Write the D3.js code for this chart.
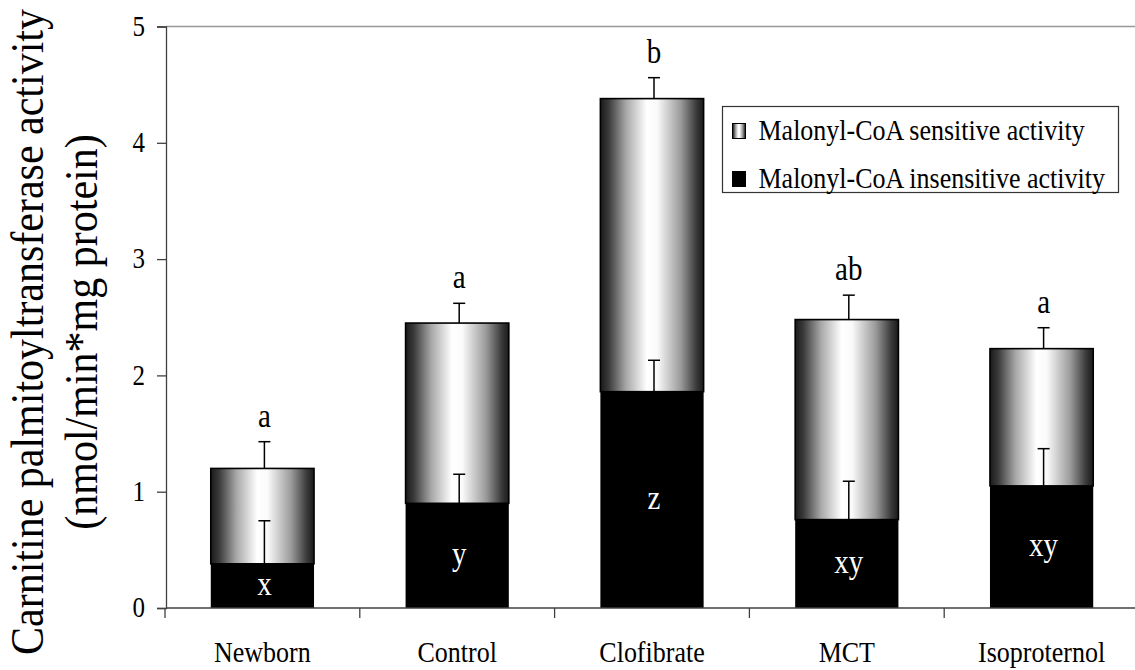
<!DOCTYPE html>
<html>
<head>
<meta charset="utf-8">
<script src="https://cdn.jsdelivr.net/npm/d3@7"></script>
<style>
  body { margin: 0; background: #fff; }
  text { font-family: "Liberation Serif", "Times New Roman", serif; fill: #000; }
</style>
</head>
<body>
<div id="chart"></div>
<script>
// values
var groups = ["Newborn", "Control", "Clofibrate", "MCT", "Isoproternol"];
var insensitive = [0.38, 0.90, 1.86, 0.76, 1.05];
var sensitive = [0.82, 1.55, 2.52, 1.72, 1.18];
var insensitiveErr = [0.37, 0.25, 0.27, 0.33, 0.32];
var totalErr = [0.23, 0.17, 0.18, 0.21, 0.18];
var topLetters = ["a", "a", "b", "ab", "a"];
var innerLetters = ["x", "y", "z", "xy", "xy"];
var yTicks = [0, 1, 2, 3, 4, 5];
var legendLabels = ["Malonyl-CoA sensitive activity", "Malonyl-CoA insensitive activity"];

var width = 1135,
    height = 670,
    plotLeft = 166,
    plotTop = 26.5,
    plotBottom = 608,
    stretch = "scale(1,1.17)"; // the original lettering is a bit tall

var svg = d3.select("#chart")
    .append("svg")
    .attr("width", width)
    .attr("height", height);

var defs = svg.append("defs");
var grad = defs.append("linearGradient")
    .attr("id", "sens")
    .attr("x1", "0%").attr("x2", "100%")
    .attr("y1", "0%").attr("y2", "0%");
[[0, "#1a1a1a"], [0.08, "#3a3a3a"], [0.25, "#a8a8a8"], [0.45, "#ffffff"], [0.55, "#fafafa"], [0.78, "#9a9a9a"], [0.93, "#3a3a3a"], [1, "#1a1a1a"]]
    .forEach(function(s) {
        grad.append("stop").attr("offset", s[0]).attr("stop-color", s[1]);
    });

var x = d3.scaleBand()
    .domain(groups)
    .range([165, 1139])
    .paddingInner(0.47)
    .paddingOuter(0.235);

var y = d3.scaleLinear().domain([0, 5]).range([plotBottom, plotTop]);

// helper: text placed at (px,py) and stretched vertically round its baseline
function label(parent, px, py, str, size, fill, anchor) {
    var g = parent.append("g").attr("transform", "translate(" + px + "," + py + ")");
    return g.append("text")
        .attr("transform", stretch)
        .attr("text-anchor", anchor || "middle")
        .style("font-size", size + "px")
        .style("fill", fill || "#000")
        .text(str);
}

// top frame line
svg.append("line")
    .attr("x1", plotLeft).attr("x2", width)
    .attr("y1", y(5)).attr("y2", y(5))
    .attr("stroke", "#999").attr("stroke-width", 1.5);

// y axis
var yAxis = svg.append("g")
    .attr("transform", "translate(" + plotLeft + ",0)")
    .call(d3.axisLeft(y).tickValues(yTicks).tickFormat(d3.format("d")).tickSize(9).tickPadding(12));
yAxis.select(".domain").attr("stroke", "#404040").attr("stroke-width", 1.3);
yAxis.selectAll(".tick line").attr("stroke", "#404040").attr("stroke-width", 1.3);
yAxis.selectAll(".tick text")
    .attr("transform", stretch)
    .attr("dy", "0.3em")
    .style("font-family", "'Liberation Serif', 'Times New Roman', serif")
    .style("font-size", "25px")
    .attr("fill", "#000");

// bars
var bar = svg.selectAll(".bar")
    .data(groups)
    .enter()
    .append("g")
    .attr("class", "bar");

bar.append("rect")
    .attr("x", function(d) { return x(d); })
    .attr("width", x.bandwidth())
    .attr("y", function(d, i) { return y(insensitive[i] + sensitive[i]); })
    .attr("height", function(d, i) { return y(insensitive[i]) - y(insensitive[i] + sensitive[i]); })
    .attr("fill", "url(#sens)")
    .attr("stroke", "#000")
    .attr("stroke-width", 1.6);

bar.append("rect")
    .attr("x", function(d) { return x(d); })
    .attr("width", x.bandwidth())
    .attr("y", function(d, i) { return y(insensitive[i]); })
    .attr("height", function(d, i) { return y(0) - y(insensitive[i]); })
    .attr("fill", "#000");

// error bars
function errBar(base, err) {
    bar.each(function(d, i) {
        var cx = x(d) + x.bandwidth() / 2 + 2;
        var g = d3.select(this);
        var y0 = y(base(i)), y1 = y(base(i) + err[i]);
        g.append("line").attr("x1", cx).attr("x2", cx).attr("y1", y0).attr("y2", y1)
            .attr("stroke", "#000").attr("stroke-width", 1.5);
        g.append("line").attr("x1", cx - 6).attr("x2", cx + 6).attr("y1", y1).attr("y2", y1)
            .attr("stroke", "#000").attr("stroke-width", 1.5);
    });
}
errBar(function(i) { return insensitive[i]; }, insensitiveErr);
errBar(function(i) { return insensitive[i] + sensitive[i]; }, totalErr);

// letters
bar.each(function(d, i) {
    var cx = x(d) + x.bandwidth() / 2 + 2;
    label(d3.select(this), cx, y(insensitive[i] + sensitive[i] + totalErr[i]) - 15, topLetters[i], 29);
    label(d3.select(this), cx, (y(0) + y(insensitive[i])) / 2 + 9, innerLetters[i], 29, "#fff");
});

// x axis
svg.append("line")
    .attr("x1", plotLeft).attr("x2", width)
    .attr("y1", plotBottom).attr("y2", plotBottom)
    .attr("stroke", "#404040").attr("stroke-width", 1.3);

svg.selectAll(".xtick")
    .data(d3.range(groups.length + 1))
    .enter()
    .append("line")
    .attr("class", "xtick")
    .attr("x1", function(i) { return x.range()[0] + i * x.step(); })
    .attr("x2", function(i) { return x.range()[0] + i * x.step(); })
    .attr("y1", plotBottom).attr("y2", plotBottom + 10)
    .attr("stroke", "#404040").attr("stroke-width", 1.3);

groups.forEach(function(d) {
    label(svg, x(d) + x.bandwidth() / 2, 662, d, 26);
});

// y title
var title = svg.append("text")
    .attr("transform", "translate(0,332) rotate(-90) scale(1,1.08)")
    .attr("text-anchor", "middle")
    .style("font-size", "42px");
title.append("tspan").attr("x", 0).attr("y", 40).text("Carnitine palmitoyltransferase activity");
title.append("tspan").attr("x", 0).attr("y", 89.5).text("(nmol/min*mg protein)");

// legend
var legend = svg.append("g").attr("transform", "translate(722.5,106.5)");
legend.append("rect")
    .attr("width", 396).attr("height", 86)
    .attr("fill", "#fff").attr("stroke", "#333").attr("stroke-width", 1.2);

legend.selectAll(".swatch")
    .data(legendLabels)
    .enter()
    .append("rect")
    .attr("class", "swatch")
    .attr("x", 10).attr("y", function(d, i) { return 17 + i * 48; })
    .attr("width", 13).attr("height", 15)
    .attr("fill", function(d, i) { return i == 0 ? "url(#sens)" : "#000"; })
    .attr("stroke", "#000").attr("stroke-width", 1);

legendLabels.forEach(function(d, i) {
    label(legend, 36, 33.5 + i * 48, d, 26, "#000", "start");
});
</script>
</body>
</html>
